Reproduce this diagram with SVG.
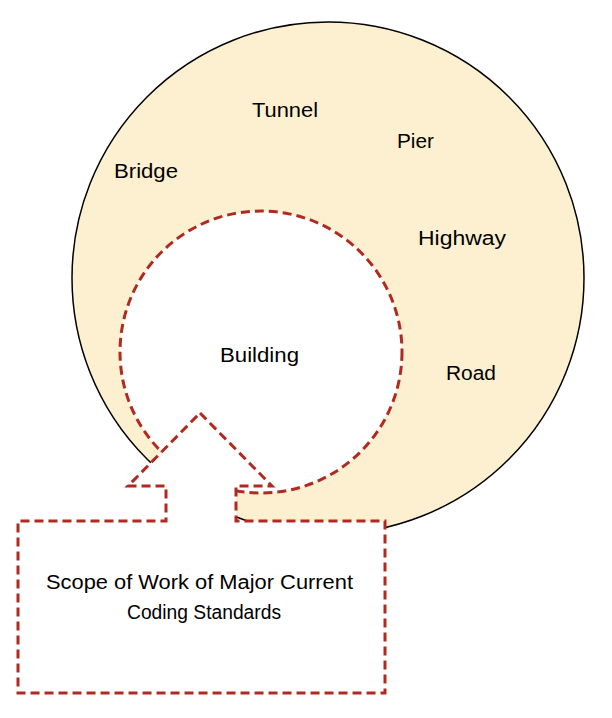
<svg xmlns="http://www.w3.org/2000/svg" width="612" height="718" viewBox="0 0 612 718">
<style>
text{font-family:"Liberation Sans",Arial,sans-serif;font-size:20px;fill:#000}
.dash{stroke:#b02a20;stroke-width:3;stroke-dasharray:9,5}
</style>
<rect width="612" height="718" fill="#fff"/>
<g id="outer"><circle cx="328" cy="278" r="256" fill="#fcf0d1" stroke="#000" stroke-width="1.5"/></g>
<g id="building"><circle cx="261" cy="352" r="141" fill="#fff" class="dash"/></g>
<g id="callout"><polygon class="dash" fill="#fff" points="200,413 272,486 236,486 236,521 385,521 385,693 18,693 18,521 166,521 166,486 128,486"/></g>
<g id="labels">
<text x="252" y="117" textLength="66" lengthAdjust="spacingAndGlyphs">Tunnel</text>
<text x="397" y="148" textLength="37" lengthAdjust="spacingAndGlyphs">Pier</text>
<text x="114" y="178" textLength="64" lengthAdjust="spacingAndGlyphs">Bridge</text>
<text x="418" y="245" textLength="88" lengthAdjust="spacingAndGlyphs">Highway</text>
<text x="220" y="362" textLength="79" lengthAdjust="spacingAndGlyphs">Building</text>
<text x="446" y="380" textLength="50" lengthAdjust="spacingAndGlyphs">Road</text>
<text x="46" y="589" textLength="307" lengthAdjust="spacingAndGlyphs">Scope of Work of Major Current</text>
<text x="127" y="619" textLength="154" lengthAdjust="spacingAndGlyphs">Coding Standards</text>
</g>
<g id="connectors"/>
</svg>
